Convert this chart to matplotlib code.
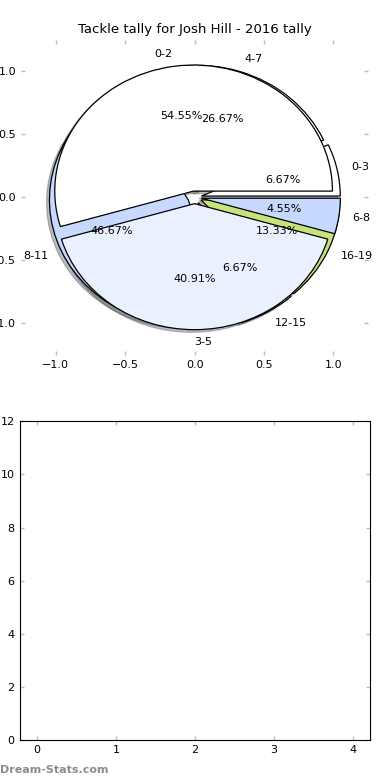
import matplotlib
matplotlib.use('Agg')
import matplotlib.pyplot as plt

title = 'Tackle tally for Josh Hill - 2016 tally'

# pie drawn on top
labels_top = ['0-2', '3-5', '6-8']
values_top = [12, 9, 1]
colors_top = ['white', '#eaf1fe', '#c6d9fe']

# pie drawn underneath
labels_under = ['0-3', '4-7', '8-11', '12-15', '16-19']
values_under = [1, 4, 7, 1, 2]
colors_under = ['white', 'white', '#c6d9fe', '#eaf1fe', '#c8e27c']

pie_ticks = [-1.0, -0.5, 0.0, 0.5, 1.0]
bar_xticks = [0, 1, 2, 3, 4]
bar_yticks = [0, 2, 4, 6, 8, 10, 12]

fig = plt.figure(figsize=(3.9, 7.8), dpi=100)
ax1 = fig.add_axes([0.054, 0.545, 0.89, 0.404])
ax2 = fig.add_axes([0.05, 0.051, 0.899, 0.409])

wedge_style = {'linewidth': 0.9, 'edgecolor': 'black'}
text_style = {'fontsize': 8}
shadow_style = {'ox': -0.015, 'oy': -0.015, 'alpha': 0.35}

for vals, labs, cols in [(values_under, labels_under, colors_under),
                         (values_top, labels_top, colors_top)]:
    ax1.pie(vals, labels=labs, colors=cols, explode=[0.05] * len(vals),
            autopct='%1.2f%%', shadow=shadow_style, wedgeprops=wedge_style,
            textprops=text_style)

ax1.set_aspect('auto')
ax1.set_xlim(-1.25, 1.25)
ax1.set_ylim(-1.25, 1.25)
ax1.set_xticks(pie_ticks)
ax1.set_yticks(pie_ticks)
ax1.set_title(title, fontsize=9.5, pad=5)

ax2.set_xlim(-0.22, 4.22)
ax2.set_ylim(0, 12)
ax2.set_xticks(bar_xticks)
ax2.set_yticks(bar_yticks)

for ax in (ax1, ax2):
    ax.tick_params(direction='in', length=3, width=1, color='#bbbbbb',
                   top=True, right=True, labelsize=8, pad=3.5)

fig.text(0.0, 0.006, 'Dream-Stats.com', color='#8c8c8c', fontsize=8,
         fontweight='bold', ha='left', va='bottom')

fig.savefig('out.png', dpi=100)
